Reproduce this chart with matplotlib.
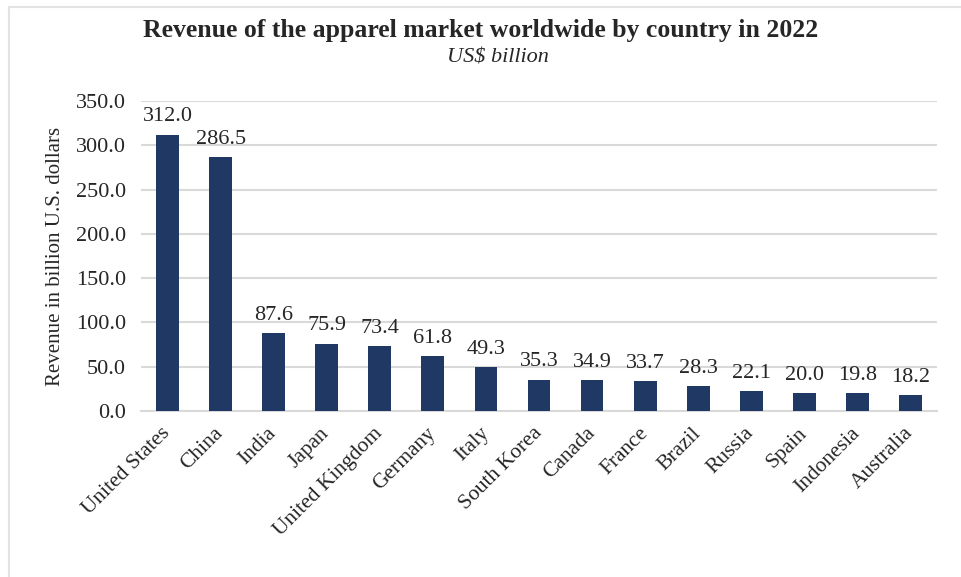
import matplotlib.pyplot as plt
import numpy as np
from matplotlib.lines import Line2D

countries = ['United States', 'China', 'India', 'Japan', 'United Kingdom',
             'Germany', 'Italy', 'South Korea', 'Canada', 'France', 'Brazil',
             'Russia', 'Spain', 'Indonesia', 'Australia']
revenue = [312.0, 286.5, 87.6, 75.9, 73.4, 61.8, 49.3, 35.3, 34.9, 33.7,
           28.3, 22.1, 20.0, 19.8, 18.2]
yticks = [0, 50, 100, 150, 200, 250, 300, 350]

plt.rcParams['font.family'] = ['Liberation Serif', 'DejaVu Serif']

fig = plt.figure(figsize=(9.62, 5.77), dpi=100)
ax = fig.add_axes([0.1466, 0.2877, 0.8274, 0.5373])

x = np.arange(len(countries))
bars = ax.bar(x, revenue, width=0.43, color='#1F3864', zorder=3)

ax.set_xlim(-0.5, len(countries) - 0.5)
ax.set_ylim(0, 350)
ax.set_yticks(yticks)
ax.set_yticklabels(['%.1f' % v for v in yticks], fontsize=16, color='#262626')
ax.yaxis.grid(True, color='#d9d9d9', linewidth=1.5, zorder=0)
ax.tick_params(axis='both', length=0)
ax.tick_params(axis='y', pad=11)
for s in ['top', 'right', 'left']:
    ax.spines[s].set_visible(False)
ax.spines['bottom'].set_color('#d9d9d9')
ax.spines['bottom'].set_linewidth(1.5)

ax.set_xticks(x)
ax.set_xticklabels(countries, rotation=45, ha='right', va='center',
                   rotation_mode='anchor', fontsize=15.5, color='#262626')
ax.tick_params(axis='x', pad=14)

for xi, v in zip(x, revenue):
    ax.annotate('%.1f' % v, (xi, v), xytext=(0, 6), textcoords='offset points',
                ha='center', va='bottom', fontsize=16, color='#262626')

ax.set_ylabel('Revenue in billion U.S. dollars', fontsize=15, color='#262626',
              labelpad=8)

fig.text(0.5, 0.948, 'Revenue of the apparel market worldwide by country in 2022',
         ha='center', va='center', fontsize=18.5, fontweight='bold', color='#262626')
fig.text(0.518, 0.9, 'US$ billion', ha='center', va='center', fontsize=16,
         style='italic', color='#262626')

# light frame on top and left
fig.add_artist(Line2D([9 / 962, 1], [1 - 7 / 577] * 2, color='#e3e3e3',
                      linewidth=1.5, transform=fig.transFigure))
fig.add_artist(Line2D([9 / 962] * 2, [0, 1 - 7 / 577], color='#e3e3e3',
                      linewidth=1.5, transform=fig.transFigure))

fig.savefig('out.png', dpi=100)
